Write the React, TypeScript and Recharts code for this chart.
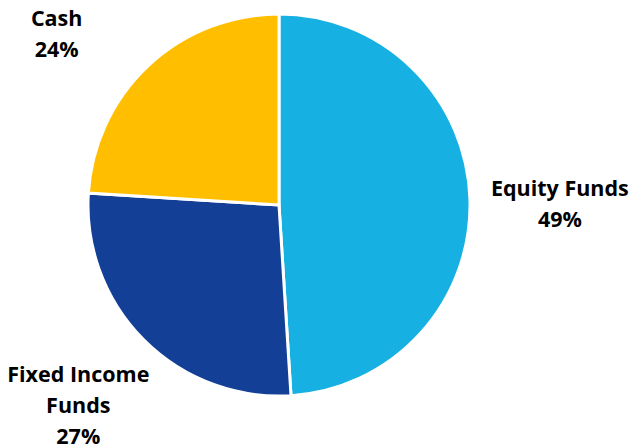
import React from 'react';
import { PieChart, Pie, Cell } from 'recharts';

const categories = ['Equity Funds', 'Fixed Income Funds', 'Cash'];
const shares = [49, 27, 24];
const colors = ['#16B0E2', '#133F96', '#FFBF00'];
// how each category label wraps
const labelLines = [['Equity Funds'], ['Fixed Income', 'Funds'], ['Cash']];

const data = categories.map((name, i) => ({ name, value: shares[i] }));

const RADIAN = Math.PI / 180;
// small nudges so labels sit where the original placed them
const labelNudge = [
  { dx: 0, dy: 6 },
  { dx: -2, dy: 0 },
  { dx: -30, dy: 32 },
];

const renderLabel = (props: any) => {
  const { cx, cy, midAngle, outerRadius, index, value } = props;
  const r = outerRadius + 90;
  const x = cx + r * Math.cos(-midAngle * RADIAN) + labelNudge[index].dx;
  const y = cy + r * Math.sin(-midAngle * RADIAN) + labelNudge[index].dy;
  const lines = [...labelLines[index], `${value}%`];
  const lh = 31;
  const top = y - ((lines.length - 1) * lh) / 2;
  return (
    <text
      x={x}
      y={top}
      textAnchor="middle"
      dominantBaseline="central"
      fill="#000"
      fontFamily="'Open Sans', sans-serif"
      fontWeight={700}
      fontSize={21.5}
    >
      {lines.map((l, i) => (
        <tspan key={i} x={x} y={top + i * lh}>
          {l}
        </tspan>
      ))}
    </text>
  );
};

export default function App() {
  return (
    <div style={{ position: 'absolute', left: 0, top: 0, background: '#fff' }}>
      <PieChart width={629} height={447} margin={{ top: 0, right: 0, bottom: 0, left: 0 }}>
        <Pie
          data={data}
          dataKey="value"
          nameKey="name"
          cx={279}
          cy={205}
          outerRadius={191}
          startAngle={90}
          endAngle={-270}
          stroke="#ffffff"
          strokeWidth={3}
          labelLine={false}
          label={renderLabel}
          isAnimationActive={false}
        >
          {data.map((entry, i) => (
            <Cell key={`cell-${i}`} fill={colors[i]} />
          ))}
        </Pie>
      </PieChart>
    </div>
  );
}
